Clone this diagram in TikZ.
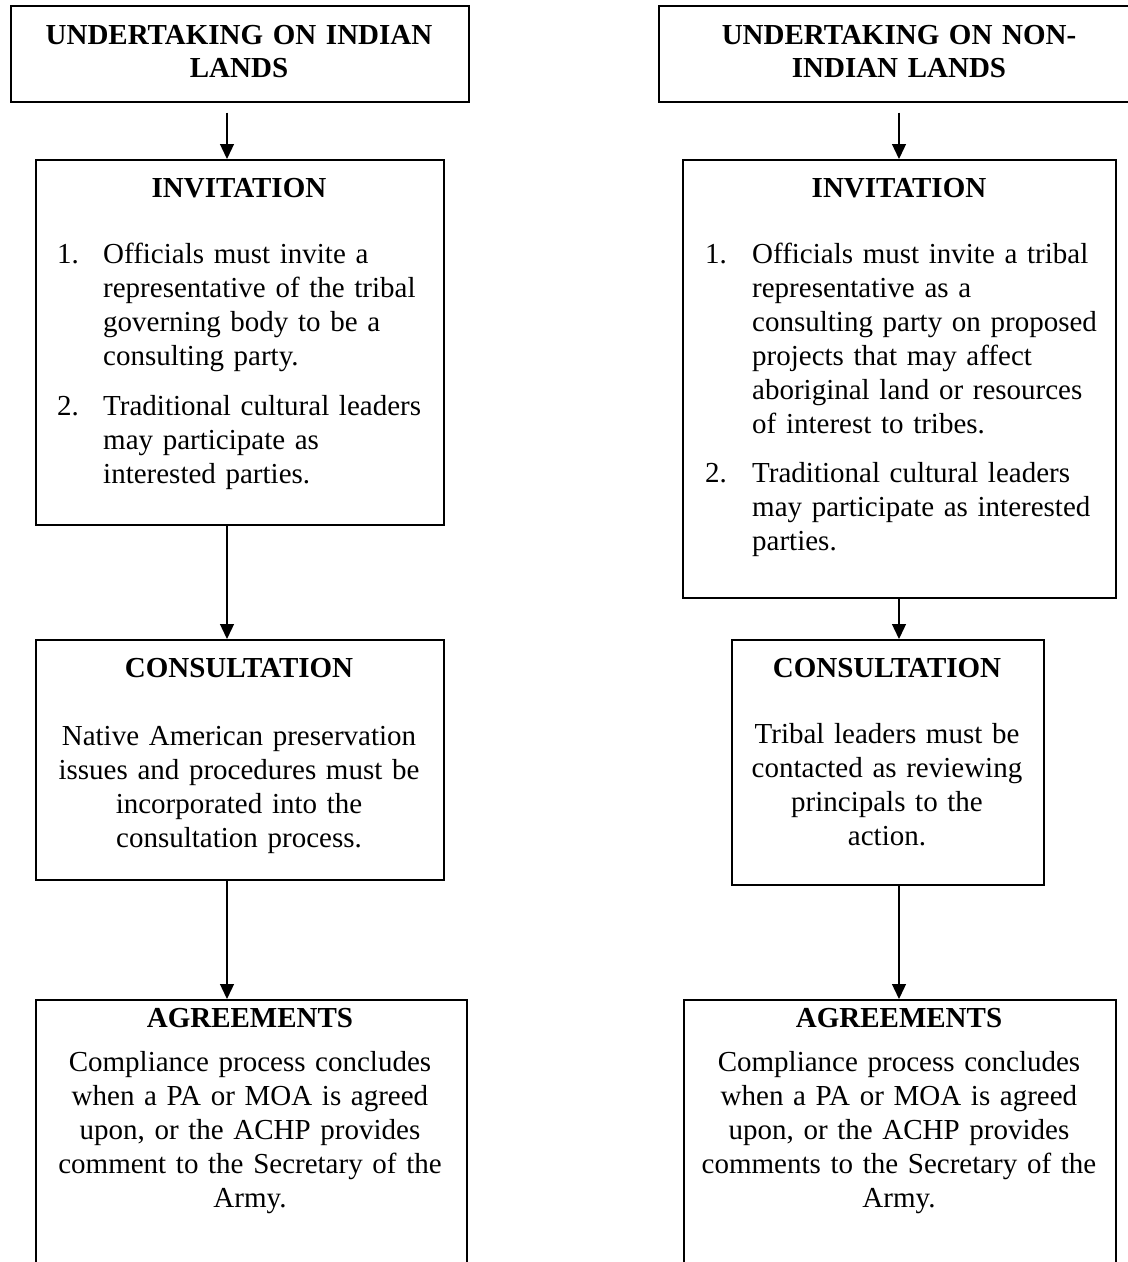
\documentclass[tikz,border=0pt]{standalone}
\usepackage{fontspec}
\setmainfont{Liberation Serif}
\usetikzlibrary{arrows.meta}
\newcommand{\bodyfont}{\fontsize{29}{34}\selectfont}
\newcommand{\headfont}{\fontsize{29}{33}\selectfont\bfseries}
\begin{document}
\begin{tikzpicture}[x=1pt,y=-1pt,
  frame/.style={draw=black,line width=1.6pt,rectangle,inner sep=0pt,anchor=north west},
  arr/.style={line width=1.3pt,-{Triangle[length=15pt,width=14pt]}},
  head/.style={inner sep=0pt,anchor=base,align=center,text width=440pt,font=\headfont},
  body/.style={inner sep=0pt,anchor=base,align=center,text width=440pt,font=\bodyfont},
  item/.style={inner sep=0pt,anchor=base west,align=left,text width=380pt,font=\bodyfont},
  num/.style={inner sep=0pt,anchor=base west,font=\bodyfont}]
\useasboundingbox (0,0) rectangle (1128,1262);
\clip (0,0) rectangle (1128,1262);

% ---- boxes, left column ----
\node[frame,minimum width=458pt,minimum height=96pt] (topL) at (10,5) {};
\node[frame,minimum width=408pt,minimum height=365pt] (invL) at (35,159) {};
\node[frame,minimum width=408pt,minimum height=240pt] (conL) at (35,639) {};
\node[frame,minimum width=431pt,minimum height=320pt] (agrL) at (35,999) {};

% ---- boxes, right column ----
\node[frame,minimum width=482pt,minimum height=96pt] (topR) at (658,5) {};
\node[frame,minimum width=433pt,minimum height=438pt] (invR) at (682,159) {};
\node[frame,minimum width=312pt,minimum height=245pt] (conR) at (731,639) {};
\node[frame,minimum width=432pt,minimum height=320pt] (agrR) at (683,999) {};

% ---- connector lines ----
\coordinate (colL) at (227,0);
\coordinate (colR) at (899,0);
\draw[arr] ([yshift=-10pt]topL.south -| colL) -- (invL.north -| colL);
\draw[arr] (invL.south -| colL) -- (conL.north -| colL);
\draw[arr] (conL.south -| colL) -- (agrL.north -| colL);
\draw[arr] ([yshift=-10pt]topR.south -| colR) -- (invR.north -| colR);
\draw[arr] (invR.south -| colR) -- (conR.north -| colR);
\draw[arr] (conR.south -| colR) -- (agrR.north -| colR);

% ---- texts, left column ----
\node[head] (tTopL) at (239,44) {UNDERTAKING ON INDIAN\\LANDS};
\node[head] (tInvL) at (239,197) {INVITATION};
\node[num] (n1L) at (57,263) {1.};
\node[item] (i1L) at (103,263) {Officials must invite a\\representative of the tribal\\governing body to be a\\consulting party.};
\node[num] (n2L) at (57,415) {2.};
\node[item] (i2L) at (103,415) {Traditional cultural leaders\\may participate as\\interested parties.};
\node[head] (tConL) at (239,677) {CONSULTATION};
\node[body] (bConL) at (239,745) {Native American preservation\\issues and procedures must be\\incorporated into the\\consultation process.};
\node[head] (tAgrL) at (250,1027) {AGREEMENTS};
\node[body] (bAgrL) at (250,1071) {Compliance process concludes\\when a PA or MOA is agreed\\upon, or the ACHP provides\\comment to the Secretary of the\\Army.};

% ---- texts, right column ----
\node[head] (tTopR) at (899,44) {UNDERTAKING ON NON-\\INDIAN LANDS};
\node[head] (tInvR) at (899,197) {INVITATION};
\node[num] (n1R) at (705,263) {1.};
\node[item] (i1R) at (752,263) {Officials must invite a tribal\\representative as a\\consulting party on proposed\\projects that may affect\\aboriginal land or resources\\of interest to tribes.};
\node[num] (n2R) at (705,482) {2.};
\node[item] (i2R) at (752,482) {Traditional cultural leaders\\may participate as interested\\parties.};
\node[head] (tConR) at (887,677) {CONSULTATION};
\node[body] (bConR) at (887,743) {Tribal leaders must be\\contacted as reviewing\\principals to the\\action.};
\node[head] (tAgrR) at (899,1027) {AGREEMENTS};
\node[body] (bAgrR) at (899,1071) {Compliance process concludes\\when a PA or MOA is agreed\\upon, or the ACHP provides\\comments to the Secretary of the\\Army.};
\end{tikzpicture}
\end{document}
